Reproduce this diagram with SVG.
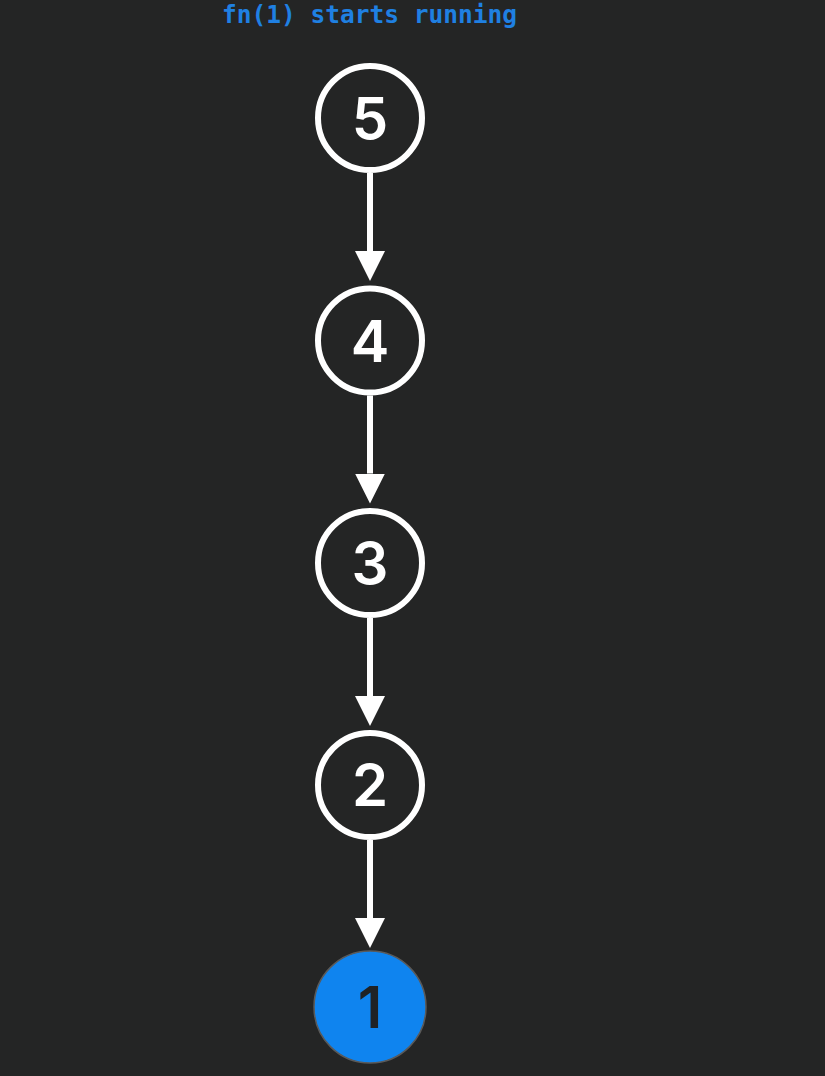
<svg xmlns="http://www.w3.org/2000/svg" width="825" height="1076" viewBox="0 0 825 1076">
  <defs>
    <marker id="arrow" viewBox="0 0 30 30" refX="0" refY="15" markerWidth="30" markerHeight="30" markerUnits="userSpaceOnUse" orient="auto">
      <path d="M0,0 L30,15 L0,30 Z" fill="#ffffff"/>
    </marker>
    <style>
      .node circle { fill: #242525; stroke: #ffffff; stroke-width: 6; }
      .node text { font-family: Inter, "Liberation Sans", Arial, sans-serif; font-weight: 600; font-size: 58px; fill: #ffffff; text-anchor: middle; }
      .node.active circle { fill: #0f84ef; stroke: #5a5a5a; stroke-width: 1.5; }
      .node.active text { fill: #1f2225; }
      .edge { stroke: #ffffff; stroke-width: 6; fill: none; }
      .title { font-family: "DejaVu Sans Mono", "Liberation Mono", monospace; font-weight: bold; font-size: 24.5px; fill: #1f80e2; }
    </style>
  </defs>
  <rect width="825" height="1076" fill="#242525"/>
  <text class="title" x="222" y="23">fn(1) starts running</text>
  <g id="connectors">
    <line class="edge" x1="370" y1="173" x2="370" y2="251" marker-end="url(#arrow)"/>
    <line class="edge" x1="370" y1="395.5" x2="370" y2="473.5" marker-end="url(#arrow)"/>
    <line class="edge" x1="370" y1="618" x2="370" y2="696" marker-end="url(#arrow)"/>
    <line class="edge" x1="370" y1="840" x2="370" y2="918" marker-end="url(#arrow)"/>
  </g>
  <g id="node5" class="node">
    <circle cx="370" cy="118" r="52"/>
    <text x="370" y="139">5</text>
  </g>
  <g id="node4" class="node">
    <circle cx="370" cy="340.5" r="52"/>
    <text x="370" y="361.5">4</text>
  </g>
  <g id="node3" class="node">
    <circle cx="370" cy="563" r="52"/>
    <text x="370" y="584">3</text>
  </g>
  <g id="node2" class="node">
    <circle cx="370" cy="785" r="52"/>
    <text x="370" y="806">2</text>
  </g>
  <g id="node1" class="node active">
    <circle cx="370" cy="1007" r="56"/>
    <text x="370" y="1028">1</text>
  </g>
</svg>
